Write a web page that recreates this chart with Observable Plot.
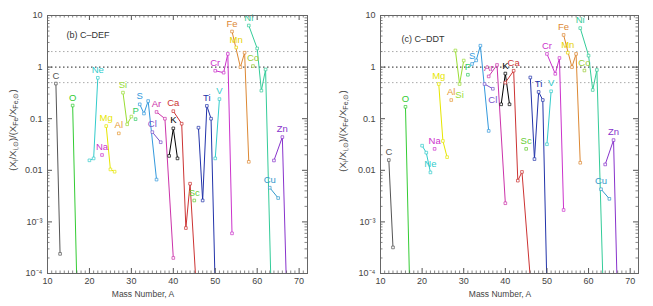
<!DOCTYPE html>
<html><head><meta charset="utf-8">
<script src="https://cdn.jsdelivr.net/npm/d3@7"></script>
<script src="https://cdn.jsdelivr.net/npm/@observablehq/plot@0.6"></script>
<style>
body{margin:0;background:#fff}
#c{display:flex;width:653px;height:306px}
svg{display:block}
</style>
</head><body><div id="c"></div>
<script>
// ---- data ----
const elements = ["C","O","Ne","Na","Mg","Al","Si","P","S","Cl","Ar","K","Ca","Sc","Ti","V","Cr","Mn","Fe","Co","Ni","Cu","Zn"];
const elementColors = ["#555555","#33cc33","#33cccc","#cc33cc","#e6e600","#e69933","#99dd33","#33cc66","#3399dd","#7755cc","#cc33aa","#000000","#cc3333","#66cc33","#2233aa","#33cccc","#cc33cc","#e6d200","#dd8833","#99cc33","#33cc99","#3399cc","#8833cc"];

// isotopes (element, mass number), in plotting order
const isoElement = ["C","C","O","O","Ne","Ne","Ne","Na","Mg","Mg","Mg","Al","Si","Si","Si","P","S","S","S","S","Cl","Cl","Ar","Ar","Ar","K","K","K","Ca","Ca","Ca","Ca","Ca","Sc","Ti","Ti","Ti","Ti","Ti","V","V","Cr","Cr","Cr","Cr","Mn","Fe","Fe","Fe","Fe","Co","Ni","Ni","Ni","Ni","Ni","Cu","Cu","Zn","Zn","Zn"];
const isoMass    = [12,13,16,17,20,21,22,23,24,25,26,27,28,29,30,31,32,33,34,36,35,37,36,38,40,39,40,41,40,42,43,44,46,45,46,47,48,49,50,50,51,50,52,53,54,55,54,56,57,58,59,58,60,61,62,64,63,65,64,66,67];

// (X_i/X_i,sun)/(X_Fe/X_Fe,sun) — panel (b) C-DEF
const defValues = [0.48,2.4e-4, 0.18,6e-5, 0.0156,0.017,0.62, 0.0198, 0.072,0.0104,0.0094, 0.052,
  0.32,0.078,0.11, 0.098, 0.19,0.126,0.22,0.0066, 0.055,0.035, 0.135,0.10,2.0e-4, 0.019,0.065,0.017,
  0.14,0.08,7.6e-4,0.0055,1e-5, 0.0026, 0.067,0.0026,0.177,0.10,5e-5, 0.017,0.24, 0.85,0.78,1.8,6e-4,
  2.4, 4.9,1.0,1.9,0.0146, 1.05, 6.4,2.3,0.35,0.9,3e-7, 0.0046,0.0029, 0.0155,0.044,5e-5];
// panel (c) C-DDT
const ddtValues = [0.0158,3.2e-4, 0.17,6e-5, 0.030,0.022,0.0091, 0.026, 0.47,0.037,0.018, 0.23,
  2.1,0.47,1.34, 0.71, 1.15,1.35,2.6,0.058, 0.47,0.38, 0.66,1.1,0.0023, 0.19,0.75,0.19,
  0.5,0.85,0.0063,0.0093,8e-5, 0.026, 0.63,0.0165,0.33,0.23,5e-5, 0.032,0.34, 1.8,0.74,1.5,0.0017,
  1.9, 4.2,1.0,1.8,0.014, 0.86, 5.7,1.67,0.36,0.88,2e-6, 0.0043,0.0028, 0.013,0.0385,2.2e-5];

// isotope that carries each element's name label
const defLabelIso = {C:12,O:16,Ne:22,Na:23,Mg:24,Al:27,Si:28,P:31,S:32,Cl:35,Ar:36,K:40,Ca:40,Sc:45,Ti:48,V:51,Cr:50,Mn:55,Fe:54,Co:59,Ni:58,Cu:63,Zn:66};
const ddtLabelIso = {C:12,O:16,Ne:22,Na:23,Mg:24,Al:27,Si:29,P:31,S:32,Cl:37,Ar:36,K:40,Ca:42,Sc:45,Ti:48,V:51,Cr:50,Mn:55,Fe:54,Co:59,Ni:58,Cu:63,Zn:66};
const ddtLabelBelow = ["Si","Cl"];

const xTicks = [10,20,30,40,50,60,70];
const yTicks = [1e-4,1e-3,1e-2,0.1,1,10];
const yTickText = ["10\u207B\u2074","10\u207B\u00B3","0.01","0.1","1","10"];
const refLevels = [2,1,0.5];

// ---- drawing ----
const xMinor = d3.range(10,73).filter(d => d % 10 !== 0);
const yMinor = [];
for (let e = -4; e < 1; e++) for (let k = 2; k <= 9; k++) yMinor.push(k * Math.pow(10, e));

function panel(values, labelIso, below, title, W, mL, mR, titleDx, titleDy, ylabX, ylabY, xlabX) {
  const mT = 15, mB = 33, H = 306;
  const iw = W - mL - mR, ih = H - mT - mB;
  const rows = isoMass.map((A, i) => ({el: isoElement[i], A, v: values[i]}));
  const labels = elements.map(el => rows.find(d => d.el === el && d.A === labelIso[el]));
  const labelsAbove = labels.filter(d => !below.includes(d.el));
  const labelsBelow = labels.filter(d => below.includes(d.el));
  const tickCol = "#555";
  const svg = Plot.plot({
    width: W, height: H, marginLeft: mL, marginRight: mR, marginTop: mT, marginBottom: mB,
    style: {fontFamily: "Liberation Sans, Arial, sans-serif", fontSize: "9px", background: "white"},
    x: {domain: [10,72], axis: null},
    y: {type: "log", domain: [1e-4, 10], axis: null},
    color: {domain: elements, range: elementColors},
    marks: [
      Plot.ruleY(refLevels, {y: d => d, stroke: d => d === 1 ? "#222" : "#aaa", strokeDasharray: "1.5,2.5"}),
      Plot.line(rows, {x: "A", y: "v", z: "el", stroke: "el", strokeWidth: 1, clip: true}),
      Plot.dot(rows.filter(d => d.v >= 1e-4), {x: "A", y: "v", stroke: "el", symbol: "square", r: 1.5, fill: "white", strokeWidth: 0.7}),
      Plot.text(labelsAbove, {x: "A", y: "v", text: "el", fill: "el", dy: -8, fontSize: 9.5}),
      Plot.text(labelsBelow, {x: "A", y: "v", text: "el", fill: "el", dy: 11, fontSize: 9.5}),
      // ticks (inward)
      Plot.ruleX(xTicks, {x: d => d, insetTop: ih - 5, stroke: tickCol}),
      Plot.ruleX(xTicks, {x: d => d, insetBottom: ih - 5, stroke: tickCol}),
      Plot.ruleX(xMinor, {x: d => d, insetTop: ih - 2.5, stroke: tickCol, strokeWidth: 0.7}),
      Plot.ruleX(xMinor, {x: d => d, insetBottom: ih - 2.5, stroke: tickCol, strokeWidth: 0.7}),
      Plot.ruleY(yTicks, {y: d => d, insetRight: iw - 5, stroke: tickCol}),
      Plot.ruleY(yTicks, {y: d => d, insetLeft: iw - 5, stroke: tickCol}),
      Plot.ruleY(yMinor, {y: d => d, insetRight: iw - 2.5, stroke: tickCol, strokeWidth: 0.7}),
      Plot.ruleY(yMinor, {y: d => d, insetLeft: iw - 2.5, stroke: tickCol, strokeWidth: 0.7}),
      Plot.frame({stroke: "#666"}),
      Plot.axisX({ticks: xTicks, tickSize: 0, tickPadding: 4, tickFormat: d => String(d), label: null, fill: "#444", fontSize: 9}),
      Plot.axisY({ticks: yTicks, tickSize: 0, tickPadding: 5, tickFormat: d => yTickText[yTicks.indexOf(d)], label: null, fill: "#444", fontSize: 9}),
      Plot.text([title], {frameAnchor: "top-left", dx: titleDx, dy: titleDy, text: d => d, fill: "#333", fontSize: 9, textAnchor: "start", lineAnchor: "middle"})
    ]
  });
  const s = d3.select(svg);
  // y label
  const t = s.append("text")
    .attr("transform", `translate(${ylabX},${ylabY}) rotate(-90)`)
    .attr("text-anchor", "middle").attr("fill", "#444").attr("font-size", 9.5);
  const parts = [["(X",0],["i",1],["/X",0],["i,\u2299",1],[")/(X",0],["Fe",1],["/X",0],["Fe,\u2299",1],[")",0]];
  parts.forEach(([str, sub]) => {
    t.append("tspan").attr("baseline-shift", sub ? "-25%" : "0%").attr("font-size", sub ? 7 : 9.5).text(str);
  });
  // x label
  s.append("text").attr("x", xlabX).attr("y", 297).attr("text-anchor", "middle")
    .attr("fill", "#444").attr("font-size", 8.5).text("Mass Number, A");
  return svg;
}

const c = document.getElementById("c");
c.appendChild(panel(defValues, defLabelIso, [], "(b) C\u2013DEF", 327, 47, 20, 19, 20, 16, 130, 143));
c.appendChild(panel(ddtValues, ddtLabelIso, ddtLabelBelow, "(c) C\u2013DDT", 326, 53, 15, 21, 24, 19, 131, 173));
</script>
</body></html>
